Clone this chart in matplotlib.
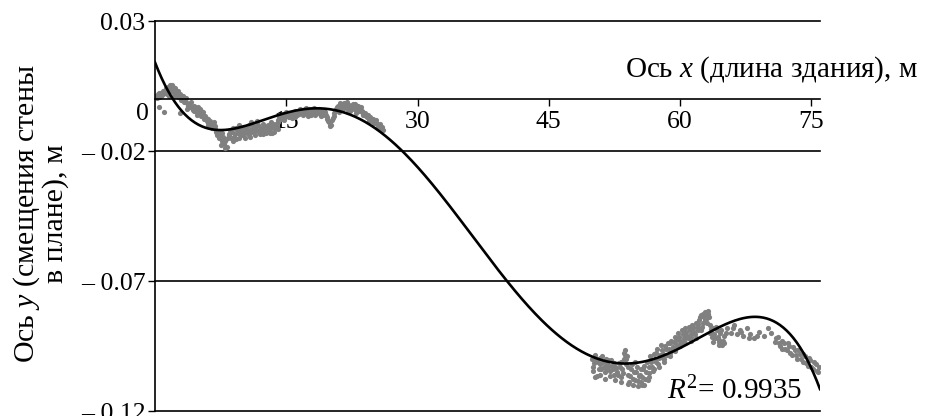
import matplotlib.pyplot as plt
import numpy as np

plt.rcParams['font.family'] = ['Liberation Serif', 'DejaVu Serif']
plt.rcParams['mathtext.fontset'] = 'custom'
plt.rcParams['mathtext.rm'] = 'Liberation Serif'
plt.rcParams['mathtext.it'] = 'Liberation Serif:italic'

# измерения: участок 1 (x, м; y, м)
x1 = [0.1, 0.3, 0.5, 0.6, 0.8, 0.9, 1.0, 1.1, 1.3, 1.4, 1.5, 1.7, 1.8, 2.0, 2.1, 2.3, 2.4,
      2.6, 2.7, 2.8, 2.9, 3.0, 3.2, 3.3, 3.5, 3.7, 3.9, 4.0, 4.2, 4.4, 4.5, 4.7, 4.9, 5.0,
      5.2, 5.4, 5.6, 5.7, 5.9, 6.1, 6.2, 6.4, 6.6, 6.8, 7.0, 7.1, 7.3, 7.4, 7.6, 7.8, 7.9,
      8.1, 8.2, 8.4, 8.6, 8.7, 8.9, 9.1, 9.2, 9.4, 9.6, 9.8, 9.9, 10.1, 10.3, 10.5, 10.7,
      10.8, 11.0, 11.2, 11.4, 11.5, 11.7, 11.9, 12.1, 12.3, 12.5, 12.7, 12.9, 13.0, 13.2,
      13.4, 13.6, 13.8, 14.0, 14.2, 14.4, 14.6, 14.8, 15.0, 15.2, 15.4, 15.6, 15.8, 16.0,
      16.2, 16.4, 16.6, 16.8, 17.0, 17.2, 17.4, 17.6, 17.8, 18.0, 18.2, 18.4, 18.6, 18.8,
      19.0, 19.2, 19.4, 19.6, 19.8, 20.0, 20.2, 20.4, 20.6, 20.8, 21.0, 21.2, 21.4, 21.6,
      21.8, 22.0, 22.2, 22.4, 22.6, 22.8, 23.0, 23.2, 23.4, 23.6, 23.8, 24.0, 24.2, 24.4,
      24.6, 24.8, 25.0, 25.2, 25.4, 25.6, 25.8, 26.0]
y1 = [0.0010, 0.0018, 0.0008, 0.0022, 0.0015, 0.0030, -0.0050, 0.0025, 0.0038, 0.0020,
      0.0046, 0.0052, 0.0035, 0.0048, 0.0028, 0.0044, 0.0020, 0.0030, 0.0008, -0.0054,
      0.0018, -0.0005, 0.0012, -0.0012, 0.0004, -0.0015, -0.0030, -0.0022, -0.0035,
      -0.0025, -0.0045, -0.0038, -0.0030, -0.0052, -0.0045, -0.0060, -0.0075, -0.0065,
      -0.0085, -0.0078, -0.0095, -0.0105, -0.0098, -0.0115, -0.0125, -0.0140, -0.0150,
      -0.0132, -0.0160, -0.0145, -0.0172, -0.0155, -0.0185, -0.0140, -0.0120, -0.0150,
      -0.0110, -0.0135, -0.0155, -0.0120, -0.0100, -0.0140, -0.0125, -0.0108, -0.0150,
      -0.0120, -0.0100, -0.0130, -0.0090, -0.0115, -0.0140, -0.0105, -0.0085, -0.0125,
      -0.0110, -0.0095, -0.0120, -0.0130, -0.0100, -0.0115, -0.0088, -0.0105, -0.0125,
      -0.0095, -0.0080, -0.0068, -0.0075, -0.0058, -0.0070, -0.0050, -0.0065, -0.0055,
      -0.0072, -0.0060, -0.0048, -0.0062, -0.0050, -0.0040, -0.0055, -0.0045, -0.0035,
      -0.0052, -0.0040, -0.0060, -0.0048, -0.0035, -0.0055, -0.0042, -0.0058, -0.0045,
      -0.0062, -0.0050, -0.0068, -0.0085, -0.0095, -0.0080, -0.0065, -0.0045, -0.0030,
      -0.0040, -0.0020, -0.0032, -0.0015, -0.0028, -0.0040, -0.0022, -0.0035, -0.0018,
      -0.0030, -0.0042, -0.0025, -0.0038, -0.0050, -0.0062, -0.0055, -0.0070, -0.0078,
      -0.0068, -0.0085, -0.0092, -0.0080, -0.0098, -0.0105, -0.0112, -0.0120]
# участок 1, второй край полосы точек
x1b = [0.2, 0.4, 0.7, 1.2, 1.6, 1.9, 2.2, 2.5, 3.1, 3.4, 3.8, 4.1, 4.3, 4.6, 4.8, 5.1, 5.3,
       5.5, 5.8, 6.0, 6.3, 6.5, 6.7, 6.9, 7.2, 7.5, 7.7, 8.0, 8.3, 8.5, 8.8, 9.0, 9.3, 9.5,
       9.7, 10.0, 10.2, 10.4, 10.6, 10.9, 11.1, 11.3, 11.6, 11.8, 12.0, 12.2, 12.4, 12.6,
       12.8, 13.1, 13.3, 13.5, 13.7, 13.9, 14.1, 14.3, 14.5, 14.7, 14.9, 15.1, 15.3, 15.5,
       15.7, 15.9, 16.1, 16.3, 16.5, 16.7, 16.9, 17.1, 17.3, 17.5, 17.7, 17.9, 18.1, 18.3,
       18.5, 18.7, 18.9, 19.1, 19.3, 19.5, 19.7, 19.9, 20.1, 20.3, 20.5, 20.7, 20.9, 21.1,
       21.3, 21.5, 21.7, 21.9, 22.1, 22.3, 22.5, 22.7, 22.9, 23.1, 23.3, 23.5, 23.7, 23.9,
       24.1, 24.3, 24.5, 24.7, 24.9, 25.1, 25.3, 25.5, 25.7, 25.9]
y1b = [0.0005, 0.0025, 0.0012, 0.0042, 0.0030, 0.0055, 0.0038, 0.0012, 0.0005, -0.0008,
       -0.0025, -0.0012, -0.0042, -0.0030, -0.0050, -0.0038, -0.0065, -0.0050, -0.0072,
       -0.0090, -0.0085, -0.0112, -0.0090, -0.0105, -0.0128, -0.0145, -0.0130, -0.0162,
       -0.0150, -0.0135, -0.0125, -0.0145, -0.0110, -0.0130, -0.0120, -0.0138, -0.0125,
       -0.0110, -0.0135, -0.0118, -0.0100, -0.0125, -0.0118, -0.0100, -0.0135, -0.0118,
       -0.0105, -0.0112, -0.0120, -0.0130, -0.0110, -0.0095, -0.0110, -0.0105, -0.0090,
       -0.0078, -0.0065, -0.0080, -0.0062, -0.0058, -0.0070, -0.0062, -0.0052, -0.0068,
       -0.0055, -0.0045, -0.0058, -0.0048, -0.0060, -0.0040, -0.0048, -0.0058, -0.0050,
       -0.0040, -0.0052, -0.0062, -0.0048, -0.0038, -0.0052, -0.0058, -0.0045, -0.0060,
       -0.0075, -0.0090, -0.0100, -0.0072, -0.0055, -0.0038, -0.0025, -0.0015, -0.0028,
       -0.0038, -0.0022, -0.0012, -0.0030, -0.0045, -0.0028, -0.0040, -0.0020, -0.0035,
       -0.0048, -0.0030, -0.0045, -0.0058, -0.0065, -0.0060, -0.0072, -0.0080, -0.0075,
       -0.0088, -0.0092, -0.0100, -0.0095, -0.0108]
# участок 1, отдельные выпавшие точки
x1c = [0.5, 1.6, 2.2, 3.6, 4.8, 6.0, 7.5, 8.0, 8.9, 9.6, 10.8, 12.3, 13.4, 14.0, 16.0,
       17.5, 19.0, 20.0, 21.0, 22.0, 23.0, 24.5, 25.5]
y1c = [-0.0030, 0.0010, 0.0012, -0.0040, -0.0060, -0.0100, -0.0175, -0.0190, -0.0160,
       -0.0150, -0.0145, -0.0135, -0.0130, -0.0115, -0.0070, -0.0065, -0.0065, -0.0105,
       -0.0050, -0.0050, -0.0055, -0.0085, -0.0110]

# измерения: участок 2
x2 = [49.9, 50.1, 50.3, 50.5, 50.6, 50.8, 51.0, 51.2, 51.4, 51.6, 51.8, 52.0, 52.2, 52.4,
      52.6, 52.8, 53.0, 53.2, 53.4, 53.6, 53.7, 53.8, 54.0, 54.2, 54.4, 54.6, 54.8, 55.0,
      55.2, 55.4, 55.6, 55.8, 56.0, 56.2, 56.4, 56.6, 56.8, 57.0, 57.2, 57.4, 57.6, 57.8,
      58.0, 58.2, 58.4, 58.6, 58.8, 59.0, 59.2, 59.4, 59.6, 59.8, 60.0, 60.2, 60.4, 60.6,
      60.8, 61.0, 61.2, 61.4, 61.6, 61.8, 62.0, 62.2, 62.4, 62.6, 62.8, 63.0, 63.2, 63.4,
      63.6, 63.8, 64.0, 64.2, 64.4, 64.6, 64.8, 65.0, 65.4, 65.8, 66.2, 66.8, 67.2, 67.6,
      68.0, 68.5, 69.0, 69.6, 70.0, 70.8, 71.2, 71.4, 71.7, 72.0, 72.3, 72.6, 72.9, 73.2,
      73.5, 73.8, 74.1, 74.4, 74.7, 75.0, 75.3, 75.6, 75.9]
y2 = [-0.1000, -0.1030, -0.0985, -0.1065, -0.1010, -0.0995, -0.1040, -0.1010, -0.1050,
      -0.1020, -0.1005, -0.1045, -0.1025, -0.1060, -0.1030, -0.1050, -0.1015, -0.1070,
      -0.1040, -0.1000, -0.0965, -0.1020, -0.1060, -0.1090, -0.1040, -0.1075, -0.1010,
      -0.1050, -0.1085, -0.1060, -0.1100, -0.1040, -0.1075, -0.1010, -0.1055, -0.0990,
      -0.1030, -0.0980, -0.1010, -0.0960, -0.0995, -0.0945, -0.0980, -0.1010, -0.0960,
      -0.0940, -0.0975, -0.0930, -0.0955, -0.0915, -0.0945, -0.0900, -0.0930, -0.0890,
      -0.0920, -0.0880, -0.0910, -0.0875, -0.0905, -0.0870, -0.0895, -0.0860, -0.0890,
      -0.0850, -0.0830, -0.0860, -0.0820, -0.0845, -0.0815, -0.0870, -0.0900, -0.0880,
      -0.0920, -0.0890, -0.0935, -0.0900, -0.0945, -0.0910, -0.0880, -0.0900, -0.0870,
      -0.0890, -0.0910, -0.0880, -0.0905, -0.0920, -0.0895, -0.0910, -0.0880, -0.0935,
      -0.0915, -0.0950, -0.0930, -0.0960, -0.0940, -0.0975, -0.0955, -0.0985, -0.0965,
      -0.1000, -0.0980, -0.1015, -0.0995, -0.1030, -0.1010, -0.1045, -0.1030]
# участок 2, второй край полосы точек
x2b = [50.0, 50.2, 50.4, 50.7, 50.9, 51.1, 51.3, 51.5, 51.7, 51.9, 52.1, 52.3, 52.5, 52.7,
       52.9, 53.1, 53.3, 53.5, 53.9, 54.1, 54.3, 54.5, 54.7, 54.9, 55.1, 55.3, 55.5, 55.7,
       55.9, 56.1, 56.3, 56.5, 56.7, 56.9, 57.1, 57.3, 57.5, 57.7, 57.9, 58.1, 58.3, 58.5,
       58.7, 58.9, 59.1, 59.3, 59.5, 59.7, 59.9, 60.1, 60.3, 60.5, 60.7, 60.9, 61.1, 61.3,
       61.5, 61.7, 61.9, 62.1, 62.3, 62.5, 62.7, 62.9, 63.1, 63.3, 63.5, 63.7, 63.9, 64.1,
       64.3, 64.5, 64.7, 64.9, 65.2, 66.0, 66.5, 67.0, 67.9, 68.8, 70.4, 71.0, 71.3, 71.6,
       71.9, 72.2, 72.5, 72.8, 73.1, 73.4, 73.7, 74.0, 74.3, 74.6, 74.9, 75.2, 75.5, 75.8]
y2b = [-0.1045, -0.1015, -0.1000, -0.1040, -0.1020, -0.0990, -0.1030, -0.1000, -0.1040,
       -0.1025, -0.1005, -0.1040, -0.1015, -0.1035, -0.1060, -0.1030, -0.1010, -0.1055,
       -0.0990, -0.1030, -0.1065, -0.1020, -0.1050, -0.1080, -0.1030, -0.1065, -0.1040,
       -0.1070, -0.1025, -0.1050, -0.1080, -0.1030, -0.1010, -0.1045, -0.1000, -0.0975,
       -0.1020, -0.0985, -0.0965, -0.0995, -0.0950, -0.0985, -0.0960, -0.0940, -0.0965,
       -0.0935, -0.0925, -0.0950, -0.0915, -0.0940, -0.0905, -0.0930, -0.0895, -0.0920,
       -0.0890, -0.0915, -0.0880, -0.0905, -0.0875, -0.0865, -0.0840, -0.0875, -0.0840,
       -0.0830, -0.0860, -0.0840, -0.0885, -0.0915, -0.0905, -0.0875, -0.0915, -0.0925,
       -0.0890, -0.0930, -0.0900, -0.0880, -0.0905, -0.0895, -0.0920, -0.0910, -0.0900,
       -0.0920, -0.0940, -0.0960, -0.0940, -0.0965, -0.0950, -0.0985, -0.0965, -0.1000,
       -0.0980, -0.1010, -0.0990, -0.1025, -0.1005, -0.1040, -0.1020, -0.1050]
# участок 2, нижний край и пики
x2c = [50.3, 50.8, 51.4, 52.0, 52.6, 53.2, 53.6, 53.7, 53.8, 54.1, 54.6, 55.2, 55.5, 55.9,
       56.4, 57.0, 57.6, 58.2, 58.8, 59.4, 60.0, 60.6, 61.2, 61.8, 62.4, 62.6, 62.9, 63.2,
       63.4, 63.8, 64.4, 65.0]
y2c = [-0.1070, -0.1060, -0.1075, -0.1065, -0.1080, -0.1090, -0.0975, -0.0985, -0.1000,
       -0.1095, -0.1100, -0.1105, -0.1090, -0.1100, -0.1070, -0.1040, -0.1030, -0.1000,
       -0.0990, -0.0970, -0.0950, -0.0940, -0.0930, -0.0920, -0.0890, -0.0825, -0.0850,
       -0.0825, -0.0900, -0.0935, -0.0945, -0.0940]

# точки линии тренда (полином 6-й степени)
trend_x = [0, 1.8, 4.5, 7.2, 11.0, 14.4, 18.7, 23.6, 28.5, 34.4, 40.2, 43.6, 46.5, 50.0,
           54.2, 58.0, 61.7, 65.0, 68.6, 73.2, 76.0]
trend_y = [0.0142, 0.0008, -0.0081, -0.0120, -0.0107, -0.0054, -0.0031, -0.0081, -0.0208,
           -0.0450, -0.0700, -0.0823, -0.0916, -0.0997, -0.1016, -0.0997, -0.0920, -0.0870,
           -0.0837, -0.0932, -0.1115]
r2_text = '$R^2$= 0.9935'

yticks = [0.03, -0.02, -0.07, -0.12]
ytick_labels = ['0.03', '– 0.02', '– 0.07', '– 0.12']
xticks = [15, 30, 45, 60, 75]

fig = plt.figure(figsize=(9.25, 4.16), dpi=100)
ax = fig.add_axes([155 / 925, 1 - 411 / 416, 665 / 925, 390 / 416])

gray = '#808080'
for xs, ys in [(x1, y1), (x1b, y1b), (x1c, y1c), (x2, y2), (x2b, y2b), (x2c, y2c)]:
    ax.scatter(xs, ys, s=14, color=gray, linewidths=0, zorder=2)

coef = np.polyfit(trend_x, trend_y, 6)
xx = np.linspace(0, 76, 400)
ax.plot(xx, np.polyval(coef, xx), color='black', lw=1.9, zorder=3)

ax.set_xlim(0, 76)
ax.set_ylim(-0.12, 0.03)

# оси
for s in ['top', 'right']:
    ax.spines[s].set_visible(False)
ax.spines['bottom'].set_position(('data', 0))
ax.spines['bottom'].set_linewidth(1.2)
ax.spines['left'].set_linewidth(1.2)

ax.set_xticks(xticks)
ax.set_xticklabels([str(t) for t in xticks])
ax.set_yticks(yticks)
ax.set_yticklabels(ytick_labels)
ax.tick_params(axis='x', direction='out', length=5, width=1, labelsize=18.5, pad=4)
ax.tick_params(axis='y', direction='out', length=5, width=1, labelsize=18.5, pad=2)

ax.yaxis.grid(True, color='black', lw=1.2)
for gl in ax.get_ygridlines():
    gl.set_clip_on(False)

ax.annotate('0', xy=(0, 0), xytext=(-13, -15), textcoords='offset pixels',
            ha='center', va='center', fontsize=18.5)

fig.text(918 / 925, 1 - 70 / 416, 'Ось $x$ (длина здания), м',
         ha='right', va='center', fontsize=21)

fig.text(40 / 925, 1 - 214 / 416, 'Ось $y$ (смещения стены\nв плане), м',
         rotation=90, ha='center', va='center', fontsize=21.5, multialignment='center',
         linespacing=1.0)

ax.text(74.0, -0.1155, r2_text, ha='right', va='baseline', fontsize=21)

fig.savefig('out.png', dpi=100)
